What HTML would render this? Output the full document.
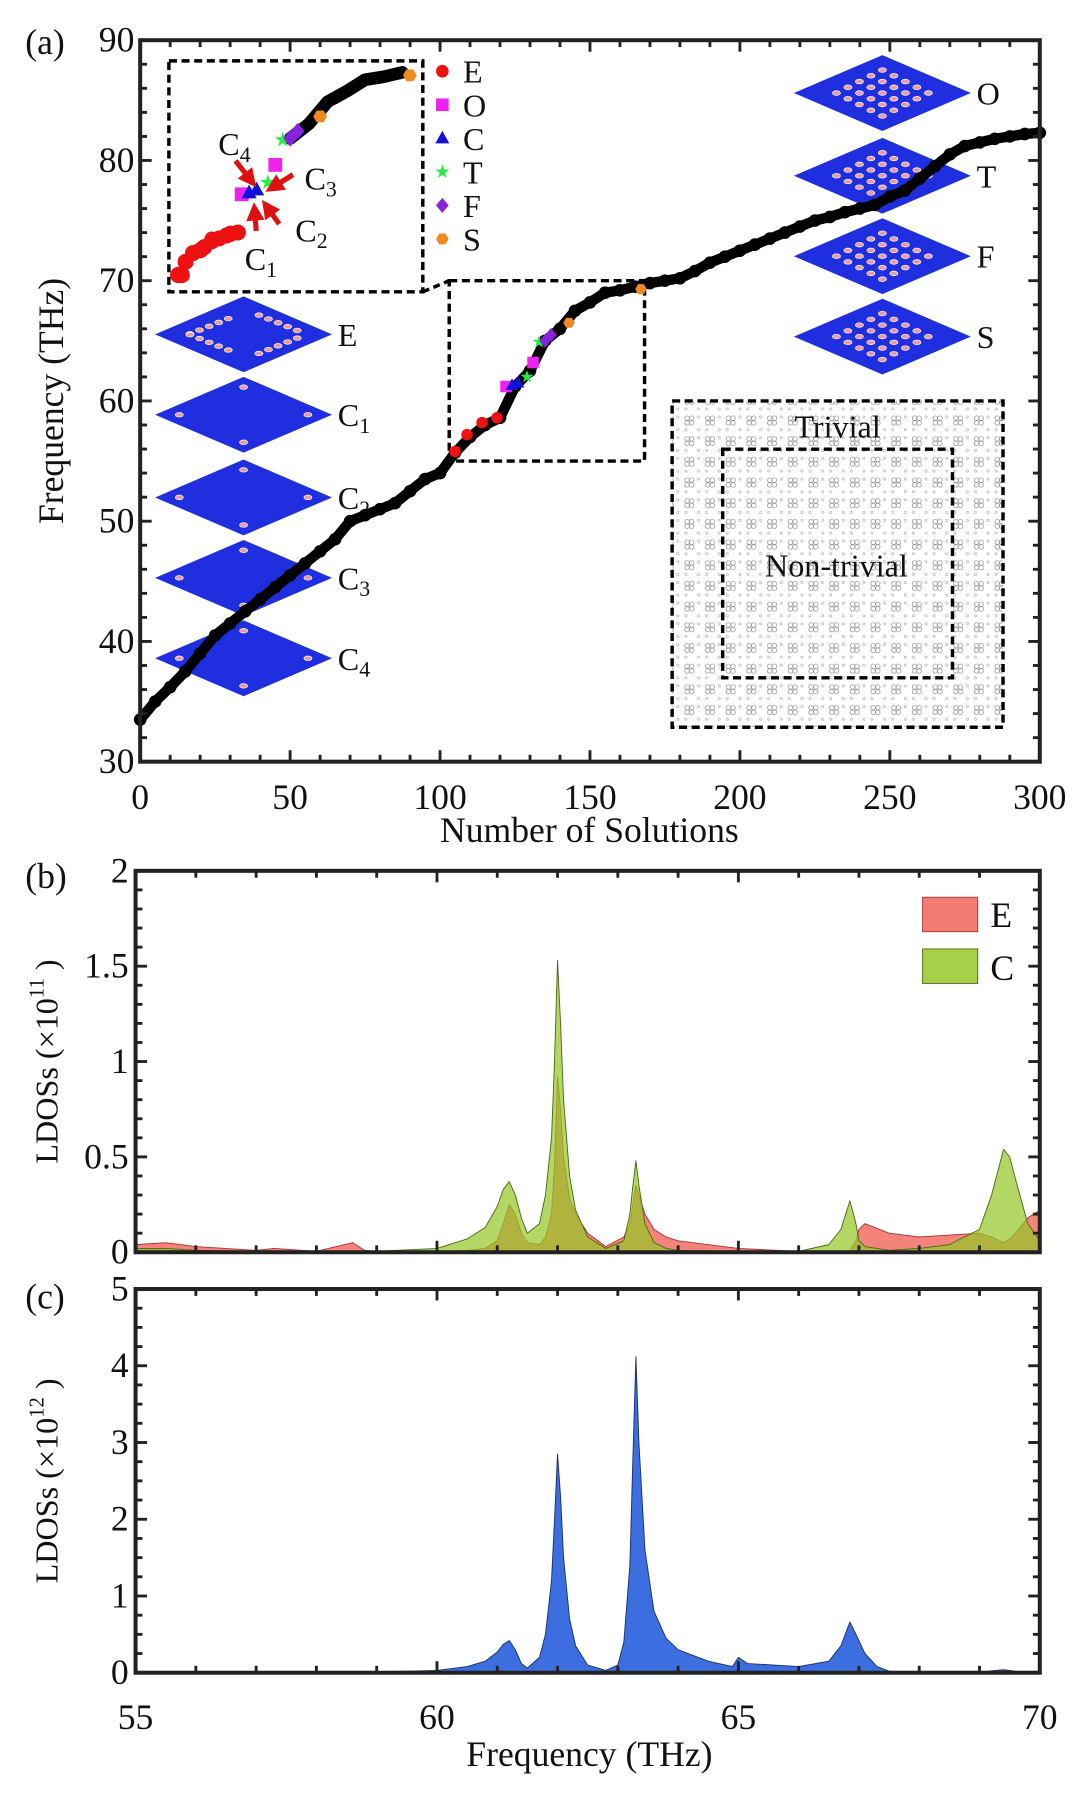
<!DOCTYPE html>
<html><head><meta charset="utf-8">
<style>
html,body{margin:0;padding:0;background:#fff;}
svg{display:block;}
svg text, svg tspan{font-family:"Liberation Serif","Times New Roman","DejaVu Serif",serif;}
</style></head>
<body>
<svg id="fig" width="1080" height="1806" viewBox="0 0 940 1572" preserveAspectRatio="none" xmlns="http://www.w3.org/2000/svg" font-family="Liberation Serif, serif">
<defs>
<pattern id="lat" width="18" height="18" patternUnits="userSpaceOnUse">
<circle cx="4" cy="4" r="2" fill="none" stroke="#888" stroke-width="0.6"/>
<circle cx="8" cy="4" r="2" fill="none" stroke="#888" stroke-width="0.6"/>
<circle cx="4" cy="8" r="2" fill="none" stroke="#888" stroke-width="0.6"/>
<circle cx="8" cy="8" r="2" fill="none" stroke="#888" stroke-width="0.6"/>
<circle cx="14" cy="14" r="1" fill="none" stroke="#aaa" stroke-width="0.5"/>
<circle cx="14" cy="3" r="1" fill="none" stroke="#aaa" stroke-width="0.5"/>
<circle cx="3" cy="14" r="1" fill="none" stroke="#aaa" stroke-width="0.5"/>
</pattern>
</defs>
<g id="pa"></g>
<g id="pb"></g>
<g id="pc"></g>
</svg>
<script>
// ---------- Panel (a) data ----------
const solIdx = [0,5,10,15,20,25,30,35,40,45,50,55,60,65,70,75,80,85,90,95,100,105,110,115,120,125,130,135,140,145,150,155,160,165,170,175,180,185,190,195,200,205,210,215,220,225,230,235,240,245,250,255,260,265,270,275,280,285,290,295,300];
const solFreq = [33.5,35,36.2,37.5,39,40.5,41.5,42.5,43.5,44.5,45.5,46.5,47.5,48.5,50,50.5,51,51.5,52.5,53.5,54,55.7,57,58,58.6,61.2,62.5,65,66,67.5,68.2,69,69.2,69.5,69.8,70,70.2,70.8,71.5,72,72.5,73,73.5,74,74.5,75,75.3,75.7,76,76.3,77,77.5,78.5,79.5,80.5,81.2,81.5,81.8,82,82.2,82.3];
const modeType = ['E','E','E','E','O','C','C','T','O','T','F','F','S','S'];
const modeIdx = [105,109,114,119,122,124,126,129,131,133,135,137,143,167];
const modeFreq = [55.8,57.2,58.2,58.6,61.2,61.3,61.5,62,63.2,64.9,65.0,65.5,66.5,69.3];
const xTicksA = [0,50,100,150,200,250,300];
const yTicksA = [30,40,50,60,70,80,90];
// ---------- Panel (b) data ----------
const freqB = [55,55.5,56,57,57.3,58,58.6,58.8,59,60,60.5,60.8,61,61.1,61.2,61.3,61.4,61.5,61.7,61.8,61.9,61.95,62.0,62.05,62.1,62.2,62.3,62.5,62.8,63.1,63.2,63.25,63.3,63.35,63.45,63.6,63.8,64,65,66,66.5,66.7,66.85,66.95,67.0,67.1,67.5,68,68.5,69,69.2,69.4,69.5,69.6,69.8,70];
const ldosE = [0.04,0.05,0.03,0.01,0.02,0.005,0.05,0.01,0.005,0.005,0.01,0.02,0.06,0.15,0.25,0.2,0.1,0.05,0.04,0.08,0.2,0.45,0.92,0.75,0.5,0.28,0.2,0.1,0.03,0.08,0.15,0.25,0.35,0.3,0.2,0.12,0.08,0.06,0.02,0.005,0.005,0.005,0.01,0.06,0.12,0.15,0.1,0.08,0.09,0.1,0.08,0.05,0.07,0.1,0.18,0.22];
const ldosC = [0.02,0.02,0.01,0.005,0.005,0.005,0.005,0.005,0.005,0.02,0.07,0.13,0.24,0.33,0.37,0.3,0.18,0.1,0.15,0.3,0.6,1.0,1.53,1.2,0.8,0.4,0.22,0.08,0.02,0.06,0.2,0.35,0.48,0.35,0.15,0.05,0.02,0.01,0.005,0.005,0.04,0.12,0.27,0.15,0.06,0.03,0.01,0.02,0.04,0.12,0.3,0.54,0.5,0.38,0.15,0.06];
const yTicksB = [0,0.5,1,1.5,2];
const yTickLabelsB = ['0','0.5','1','1.5','2'];
// ---------- Panel (c) data ----------
const freqC = [55,58,59,60,60.5,60.8,61,61.1,61.2,61.3,61.4,61.5,61.7,61.8,61.9,61.95,62.0,62.05,62.1,62.2,62.3,62.5,62.8,63.0,63.1,63.2,63.25,63.3,63.35,63.45,63.6,63.8,64,64.5,64.9,65.0,65.15,66,66.5,66.7,66.85,66.95,67.1,67.3,67.5,68,69,69.4,69.7,70];
const ldosT = [0,0.005,0.01,0.03,0.08,0.15,0.27,0.37,0.42,0.3,0.12,0.06,0.2,0.5,1.2,2.0,2.85,2.3,1.5,0.7,0.35,0.1,0.03,0.1,0.4,1.4,2.8,4.12,3.0,1.6,0.8,0.45,0.3,0.15,0.08,0.2,0.12,0.08,0.15,0.35,0.66,0.5,0.25,0.08,0.02,0,0.01,0.04,0.01,0];
const yTicksC = [0,1,2,3,4,5];
const xTicksBC = [55,60,65,70];

const NS='http://www.w3.org/2000/svg';
const FONT='Liberation Serif, Times New Roman, serif';
function mk(tag, attrs, parent){const e=document.createElementNS(NS,tag);for(const k in attrs)e.setAttribute(k,attrs[k]);if(tag==='text')e.setAttribute('font-family',FONT);parent.appendChild(e);return e;}
function txt(parent,x,y,s,size,anchor){const t=mk('text',{x:x,y:y,'font-size':size,'text-anchor':anchor||'middle',fill:'#111'},parent);t.textContent=s;return t;}

// ---------- Panel (a) ----------
const pa=document.getElementById('pa');
const aL=122,aR=905,aT=35,aB=663;
const ax=n=>aL+(n-0)/(300)*(aR-aL);
const ay=f=>aB-(f-30)/60*(aB-aT);
const ix=n=>155+(n-105)*(360-155)/(168-105);
const iy=f=>242-(f-55.5)*(242-63)/(69.5-55.5);

function box(parent,x1,y1,x2,y2,name){const r=mk('rect',{x:x1,y:y1,width:x2-x1,height:y2-y1,fill:'none',stroke:'#000','stroke-width':3,'stroke-dasharray':'7 4'},parent);return r;}

const latG=mk('g',{},pa);


mk('rect',{x:585,y:349,width:288,height:284,fill:'url(#lat)'},latG);
box(latG,585,349,873,633,'trivial-region-box');
box(latG,629,391,829,590,'nontrivial-region-box');
const t1=txt(latG,729,381,'Trivial',28);
const t2=txt(latG,728,502,'Non-trivial',28);

box(pa,391,ay(70),561,ay(55),'zoom-region-box');
box(pa,147,53,368,254,'zoom-inset-box');
const cl=mk('line',{x1:368,y1:254,x2:391,y2:ay(70),stroke:'#000','stroke-width':3,'stroke-dasharray':'6 4'},pa);



function thumb(cx,cy,label,sub,kind){
  const g=mk('g',{},pa);
  
  
  mk('polygon',{points:`${cx-77},${cy} ${cx},${cy-33} ${cx+77},${cy} ${cx},${cy+33}`,fill:'#1f2fe0'},g);
  const dots=[];
  if(kind==='corner'){dots.push([cx,cy-24],[cx,cy+24],[cx-56,cy],[cx+56,cy]);}
  else if(kind==='edge'){for(let i=1;i<6;i++){const s=i/6;dots.push([cx-55+s*50,cy-5-s*20+8],[cx+5+s*50,cy-20+s*20],[cx-55+s*50,cy+5+s*20-8],[cx+5+s*50,cy+20-s*20]);}}
  else {for(let i=-2;i<=2;i++)for(let j=-2;j<=2;j++)dots.push([cx+i*10+j*10,cy+(j-i)*5]);}
  dots.forEach(d=>mk('ellipse',{cx:d[0],cy:d[1],rx:3.5,ry:2,fill:'#e89aa8',stroke:'#fff','stroke-width':0.6},g));
  const t=mk('text',{x:cx+82,y:cy+10,'font-size':28,fill:'#111'},g);
  t.textContent=label;
  if(sub){const s=mk('tspan',{'font-size':19,dy:6},t);s.textContent=sub;}
}
thumb(212,291,'E','', 'edge');
thumb(212,361,'C','1','corner');
thumb(212,433,'C','2','corner');
thumb(212,503,'C','3','corner');
thumb(212,573,'C','4','corner');
thumb(768,81,'O','', 'bulk');
thumb(768,153,'T','', 'bulk');
thumb(768,223,'F','', 'bulk');
thumb(768,293,'S','', 'bulk');

const curveG=mk('g',{},pa);


mk('polyline',{points:solIdx.map((n,i)=>ax(n)+','+ay(solFreq[i])).join(' '),fill:'none',stroke:'#000','stroke-width':9,'stroke-linejoin':'round','stroke-linecap':'round'},curveG);
solIdx.forEach((n,i)=>{const c=mk('circle',{cx:ax(n),cy:ay(solFreq[i]),r:5.5,fill:'#000'},curveG);});

const inG=mk('g',{},pa);


const subI=[],subF=[];
solIdx.forEach((n,i)=>{if(n>=135&&n<=168){subI.push(n);subF.push(solFreq[i]);}});
mk('polyline',{points:subI.map((n,i)=>ix(n)+','+iy(subF[i])).join(' '),fill:'none',stroke:'#000','stroke-width':11,'stroke-linejoin':'round','stroke-linecap':'round'},inG);

const colors={E:'#ee1111',O:'#ee22ee',C:'#1111dd',T:'#22ee44',F:'#8822dd',S:'#f08a20'};
function marker(parent,type,x,y,s){
  let e;
  if(type==='E')e=mk('circle',{cx:x,cy:y,r:s,fill:colors.E},parent);
  else if(type==='O')e=mk('rect',{x:x-s,y:y-s,width:2*s,height:2*s,fill:colors.O},parent);
  else if(type==='C')e=mk('polygon',{points:`${x},${y-s*1.2} ${x+s*1.1},${y+s*0.8} ${x-s*1.1},${y+s*0.8}`,fill:colors.C},parent);
  else if(type==='T'){const p=[];for(let k=0;k<10;k++){const r=k%2?s*0.45:s*1.2,a=-Math.PI/2+k*Math.PI/5;p.push((x+r*Math.cos(a))+','+(y+r*Math.sin(a)));}e=mk('polygon',{points:p.join(' '),fill:colors.T},parent);}
  else if(type==='F')e=mk('polygon',{points:`${x},${y-s*1.2} ${x+s},${y} ${x},${y+s*1.2} ${x-s},${y}`,fill:colors.F},parent);
  else {const p=[];for(let k=0;k<6;k++){const a=k*Math.PI/3;p.push((x+s*Math.cos(a))+','+(y+s*Math.sin(a)));}e=mk('polygon',{points:p.join(' '),fill:colors.S},parent);}
  return e;
}
modeIdx.forEach((n,i)=>{
  const m=marker(curveG,modeType[i],ax(n),ay(modeFreq[i]),5);
  
  
  const m2=marker(inG,modeType[i],ix(n),iy(modeFreq[i]),6);
  
  
});
const eTrailI=[105,106,107,109,111,112,114,116,118,119,121];
const eTrailF=[55.7,55.7,56.6,57.2,57.4,57.6,58.0,58.2,58.4,58.5,58.6];
eTrailI.forEach((n,i)=>{const c=mk('circle',{cx:ix(n),cy:iy(eTrailF[i]),r:7,fill:colors.E},inG);});

function arrow(x1,y1,x2,y2){const g=mk('g',{},pa);
  const a=Math.atan2(y2-y1,x2-x1),h=10;
  mk('line',{x1:x1,y1:y1,x2:x2-h*Math.cos(a),y2:y2-h*Math.sin(a),stroke:'#e01010','stroke-width':4.5},g);
  mk('polygon',{points:`${x2},${y2} ${x2-h*1.6*Math.cos(a)+8*Math.sin(a)},${y2-h*1.6*Math.sin(a)-8*Math.cos(a)} ${x2-h*1.6*Math.cos(a)-8*Math.sin(a)},${y2-h*1.6*Math.sin(a)+8*Math.cos(a)}`,fill:'#e01010'},g);}
arrow(205,140,223,163);arrow(255,152,231,167);arrow(243,195,228,174);arrow(223,201,221,176);
[['C','4',190,135],['C','3',265,165],['C','2',257,210],['C','1',213,235]].forEach(d=>{const t=mk('text',{x:d[2],y:d[3],'font-size':28,fill:'#111'},pa);t.textContent=d[0];const s=mk('tspan',{'font-size':19,dy:6},t);s.textContent=d[1];});

const legG=mk('g',{},pa);


['E','O','C','T','F','S'].forEach((k,i)=>{const y=62+i*29.2;const m=marker(legG,k,385,y,5.5);const t=txt(legG,403,y+10,k,28,'start');});

function frame(parent,L,T,R,B,name){const r=mk('rect',{x:L,y:T,width:R-L,height:B-T,fill:'none',stroke:'#222','stroke-width':3.5},parent);}
function ticks(parent,L,T,R,B,xs,xmap,ys,ymap){
  xs.forEach(v=>{const x=xmap(v[0]),len=v[1]?10:6;mk('line',{x1:x,y1:B,x2:x,y2:B-len,stroke:'#222','stroke-width':2.5},parent);mk('line',{x1:x,y1:T,x2:x,y2:T+len,stroke:'#222','stroke-width':2.5},parent);});
  ys.forEach(v=>{const y=ymap(v[0]),len=v[1]?10:6;mk('line',{x1:L,y1:y,x2:L+len,y2:y,stroke:'#222','stroke-width':2.5},parent);mk('line',{x1:R,y1:y,x2:R-len,y2:y,stroke:'#222','stroke-width':2.5},parent);});
}
const axA=mk('g',{},pa);


frame(axA,aL,aT,aR,aB,'panel-a-frame');
const xsA=[],ysA=[];for(let v=0;v<=300;v+=10)xsA.push([v,v%50===0]);for(let v=30;v<=90;v+=2)ysA.push([v,v%10===0]);
ticks(axA,aL,aT,aR,aB,xsA,ax,ysA,ay);
xTicksA.forEach(v=>{const t=txt(axA,ax(v),704,String(v),31);});
yTicksA.forEach(v=>{const t=txt(axA,aL-5,ay(v)+10,String(v),31,'end');});
let tt=txt(axA,513,733,'Number of Solutions',31);
tt=mk('text',{x:0,y:0,'font-size':31,'text-anchor':'middle',fill:'#111',transform:`translate(55,${(aT+aB)/2}) rotate(-90)`},axA);tt.textContent='Frequency (THz)';
tt=txt(axA,22,47,'(a)',31,'start');

// ---------- Panels (b),(c) ----------
const bL=118,bR=905;
const fx=f=>bL+(f-55)/15*(bR-bL);
function areaPath(fr,vals,ymap,base){let d=`M${fx(fr[0])},${base}`;fr.forEach((f,i)=>{d+=` L${fx(f)},${ymap(vals[i])}`;});d+=` L${fx(fr[fr.length-1])},${base} Z`;return d;}

const pb=document.getElementById('pb');
const bT=758,bB=1090;
const byf=v=>bB-v/2*(bB-bT);
let p=mk('path',{d:areaPath(freqB,ldosE,byf,bB),fill:'rgba(240,90,80,0.75)',stroke:'#a33','stroke-width':0.8,'stroke-linejoin':'round'},pb);

p=mk('path',{d:areaPath(freqB,ldosC,byf,bB),fill:'rgba(150,200,40,0.72)',stroke:'#4a6a10','stroke-width':0.8,'stroke-linejoin':'round'},pb);

const axB=mk('g',{},pb);


frame(axB,bL,bT,bR,bB,'panel-b-frame');
const xsB=[];for(let v=55;v<=70;v++)xsB.push([v,v%5===0]);
const ysB=[];for(let v=0;v<=2.001;v+=0.1)ysB.push([v,Math.abs(v*2-Math.round(v*2))<0.01]);
ticks(axB,bL,bT,bR,bB,xsB,fx,ysB,byf);
yTicksB.forEach((v,i)=>{const t=txt(axB,bL-6,byf(v)+10,yTickLabelsB[i],31,'end');});
tt=mk('text',{x:0,y:0,'font-size':28,'text-anchor':'middle',fill:'#111',transform:`translate(50,${(bT+bB)/2}) rotate(-90)`},axB);tt.textContent='LDOSs (×10';let sp=mk('tspan',{'font-size':18,dy:-12},tt);sp.textContent='11';sp=mk('tspan',{dy:12},tt);sp.textContent=' )';

tt=txt(axB,22,773,'(b)',31,'start');
const lb=mk('g',{},pb);


let r=mk('rect',{x:803,y:781,width:48,height:30,fill:'rgba(240,100,90,0.85)',stroke:'#a33','stroke-width':0.8},lb);
r=mk('rect',{x:803,y:826,width:48,height:30,fill:'rgba(150,200,40,0.85)',stroke:'#4a6a10','stroke-width':0.8},lb);
tt=txt(lb,862,807,'E',31,'start');
tt=txt(lb,862,853,'C',31,'start');

const pc=document.getElementById('pc');
const cT=1122,cB=1456;
const cyf=v=>cB-v/5*(cB-cT);
p=mk('path',{d:areaPath(freqC,ldosT,cyf,cB),fill:'#3d6ee0',stroke:'#1a2f6a','stroke-width':0.8,'stroke-linejoin':'round'},pc);

const axC=mk('g',{},pc);


frame(axC,bL,cT,bR,cB,'panel-c-frame');
const ysC=[];for(let v=0;v<=5.001;v+=0.25)ysC.push([v,Math.abs(v-Math.round(v))<0.01]);
ticks(axC,bL,cT,bR,cB,xsB,fx,ysC,cyf);
yTicksC.forEach(v=>{const t=txt(axC,bL-6,cyf(v)+10,String(v),31,'end');});
xTicksBC.forEach(v=>{const t=txt(axC,fx(v),1505,String(v),31);});
tt=txt(axC,513,1537,'Frequency (THz)',31);
tt=mk('text',{x:0,y:0,'font-size':28,'text-anchor':'middle',fill:'#111',transform:`translate(50,${(cT+cB)/2}) rotate(-90)`},axC);tt.textContent='LDOSs (×10';sp=mk('tspan',{'font-size':18,dy:-12},tt);sp.textContent='12';sp=mk('tspan',{dy:12},tt);sp.textContent=' )';

tt=txt(axC,22,1139,'(c)',31,'start');
</script>
</body></html>
